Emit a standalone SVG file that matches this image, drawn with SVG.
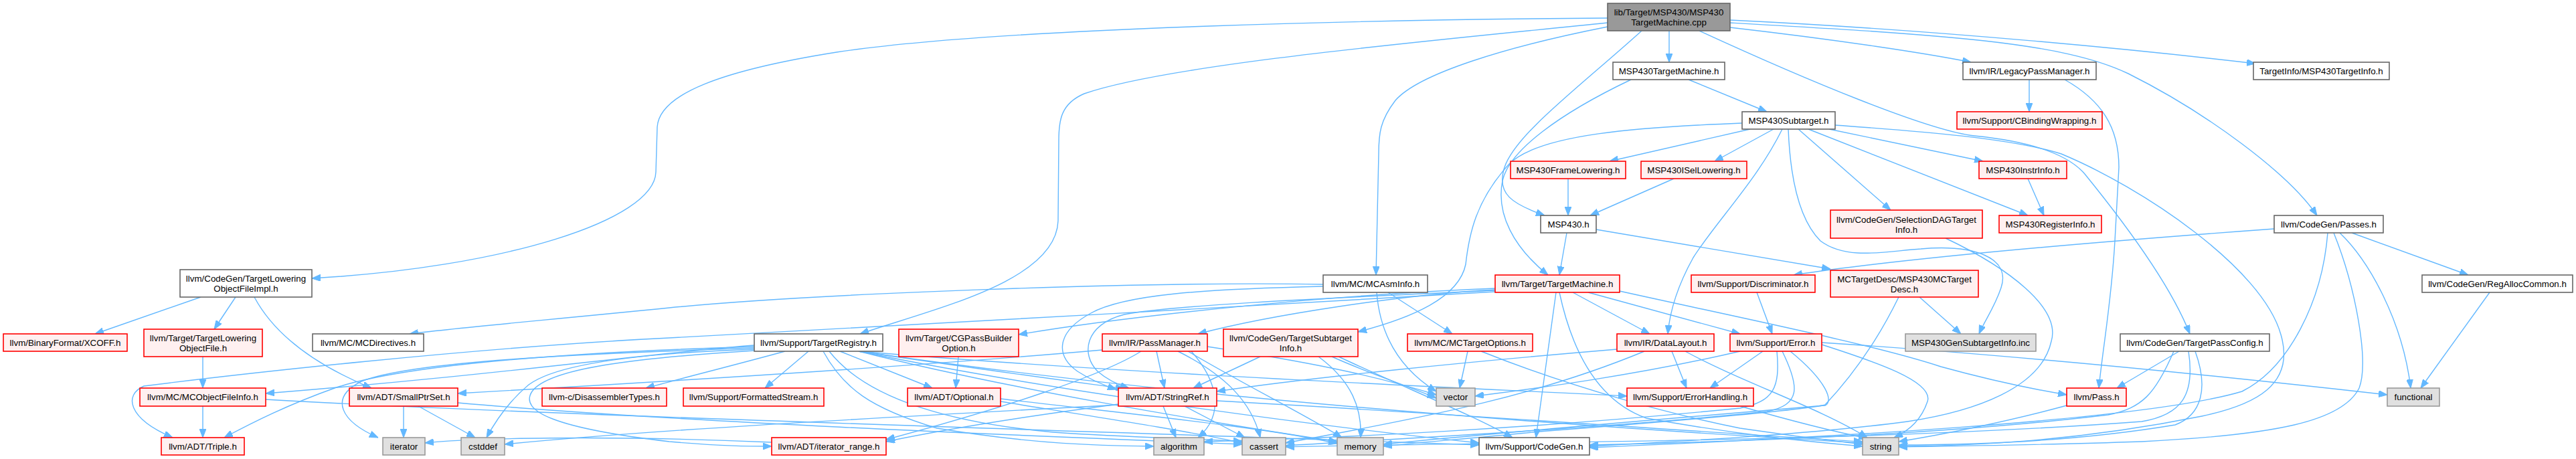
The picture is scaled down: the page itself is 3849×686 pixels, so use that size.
<svg xmlns="http://www.w3.org/2000/svg" width="3849" height="686" viewBox="0 0 3849 686">
<defs>
<marker id="ah" viewBox="0 0 13 10" refX="13" refY="5" markerWidth="13" markerHeight="10" markerUnits="userSpaceOnUse" orient="auto">
<path d="M0,0 L13,5 L0,10 z" fill="#63b8ff" stroke="#63b8ff" stroke-width="1"/>
</marker>
</defs>
<style>
.e{fill:none;stroke:#63b8ff;stroke-width:1.4;marker-end:url(#ah)}
.w{fill:#ffffff;stroke:#666666;stroke-width:1.6}
.r{fill:#fff0f0;stroke:#ff0000;stroke-width:1.6}
.g{fill:#e0e0e0;stroke:#999999;stroke-width:1.6}
.k{fill:#999999;stroke:#666666;stroke-width:1.6}
text{font-family:"Liberation Sans",Arial,Helvetica,sans-serif;font-size:13.33px;fill:#000000;text-anchor:middle}
</style>
<rect x="0" y="0" width="3849" height="686" fill="#ffffff"/>
<g id="edges">
<path class="e" d="M2402,27 C2100,29 1500,40 1250,78 C1080,105 985,140 982,190 L980,257 C978,330 750,400 466,416"/>
<path class="e" d="M2402,34 C2150,60 1750,95 1620,140 C1585,155 1582,180 1582,210 L1581,330 C1578,420 1400,460 1285,499"/>
<path class="e" d="M2402,40 C2250,70 2120,110 2085,150 C2062,180 2060,200 2060,230 L2056,411"/>
<path class="e" d="M2453,46 C2360,130 2265,200 2248,250 C2235,290 2260,305 2308,322"/>
<path class="e" d="M2494,46 L2494,93"/>
<path class="e" d="M2539,46 C2700,120 2880,195 2950,203 C3020,210 3085,225 3115,260 C3180,340 3245,430 3272,499"/>
<path class="e" d="M2585,41 C2750,60 2880,80 2945,93"/>
<path class="e" d="M2585,30 C2900,45 3200,75 3370,95"/>
<path class="e" d="M2585,34 C2900,52 3080,62 3180,110 C3300,170 3420,260 3462,322"/>
<path class="e" d="M2523,119 L2640,167"/>
<path class="e" d="M2437,119 C2330,170 2255,225 2245,270 C2235,320 2262,370 2313,411"/>
<path class="e" d="M2615,193 L2405,241"/>
<path class="e" d="M2650,193 L2562,241"/>
<path class="e" d="M2733,193 L2963,241"/>
<path class="e" d="M2702,193 L3030,322"/>
<path class="e" d="M2687,193 L2825,314"/>
<path class="e" d="M2663,193 C2625,270 2565,330 2530,385 C2505,430 2495,465 2492,499"/>
<path class="e" d="M2672,193 C2675,270 2690,330 2720,360 C2760,390 2820,375 2870,372 C2950,365 3005,385 2990,430 C2980,460 2965,480 2957,499"/>
<path class="e" d="M2603,184 C2450,190 2300,200 2255,245 C2205,300 2195,350 2190,395 C2180,445 2110,475 2029,496"/>
<path class="e" d="M2742,187 C2850,195 3000,205 3080,230 C3200,280 3380,400 3408,500 C3430,575 3370,605 3290,622 C3100,660 2950,666 2837,667"/>
<path class="e" d="M2343,267 L2343,322"/>
<path class="e" d="M2501,267 L2376,322"/>
<path class="e" d="M3030,267 L3054,322"/>
<path class="e" d="M3032,119 L3032,167"/>
<path class="e" d="M3085,119 C3140,150 3166,190 3166,250 L3160,360 C3155,450 3142,520 3136,580"/>
<path class="e" d="M2341,348 L2330,411"/>
<path class="e" d="M2385,343 L2735,402"/>
<path class="e" d="M2907,356 C3000,400 3080,460 3065,510 C3050,580 2950,615 2850,630 C2700,650 2500,660 2375,667"/>
<path class="e" d="M3398,342 C3150,360 2850,385 2680,411"/>
<path class="e" d="M3496,348 C3540,390 3590,480 3602,580"/>
<path class="e" d="M3514,348 L3688,411"/>
<path class="e" d="M3487,348 C3520,430 3540,540 3525,580 C3500,630 3400,650 3200,660 C3050,665 2900,667 2837,668"/>
<path class="e" d="M3478,348 C3470,450 3420,550 3350,585 C3200,630 2700,655 2375,669"/>
<path class="e" d="M3720,437 L3617,580"/>
<path class="e" d="M300,444 L142,499"/>
<path class="e" d="M352,444 L320,492"/>
<path class="e" d="M380,444 C410,500 470,545 555,580"/>
<path class="e" d="M303,533 L303,580"/>
<path class="e" d="M303,607 L303,654"/>
<path class="e" d="M397,597 C800,620 1500,640 2210,665"/>
<path class="e" d="M1977,425 C1700,420 1200,440 1000,460 C800,480 680,490 612,499"/>
<path class="e" d="M2074,437 L2170,499"/>
<path class="e" d="M2057,437 C2062,500 2090,550 2146,585"/>
<path class="e" d="M1977,428 C1800,432 1680,440 1630,468 C1580,495 1575,530 1610,555 C1630,568 1650,576 1668,582"/>
<path class="e" d="M2325,437 L2295,654"/>
<path class="e" d="M2350,437 L2465,499"/>
<path class="e" d="M2373,437 L2600,499"/>
<path class="e" d="M2330,437 C2350,530 2390,600 2460,625 C2600,650 2700,660 2783,667"/>
<path class="e" d="M2420,435 C2600,475 2800,515 2900,548 C2980,570 3040,582 3088,590"/>
<path class="e" d="M2234,436 C1900,455 1300,490 1000,505 C700,520 350,560 215,577 C185,590 190,625 258,654"/>
<path class="e" d="M2234,433 C2100,440 1900,470 1790,499"/>
<path class="e" d="M2234,431 C2000,440 1700,470 1522,500"/>
<path class="e" d="M2234,434 C2000,445 1760,455 1680,470 C1620,485 1615,530 1640,555 C1655,568 1670,575 1687,580"/>
<path class="e" d="M2625,437 L2648,499"/>
<path class="e" d="M2868,444 L2930,499"/>
<path class="e" d="M2837,444 C2800,520 2760,570 2727,605 C2700,612 2500,630 2300,645 C2200,655 2100,663 2067,667"/>
<path class="e" d="M1173,525 C1100,545 1020,565 965,580"/>
<path class="e" d="M1255,525 L1393,580"/>
<path class="e" d="M1208,525 L1143,580"/>
<path class="e" d="M1283,525 C1450,550 1600,570 1680,581"/>
<path class="e" d="M1127,518 C900,525 620,540 500,580 C430,605 380,630 335,654"/>
<path class="e" d="M1127,520 C900,528 620,538 540,570 C490,595 510,630 565,654"/>
<path class="e" d="M1127,522 C950,528 830,545 790,575 C760,600 740,630 727,654"/>
<path class="e" d="M1127,524 C950,535 820,550 795,585 C775,615 830,640 1000,660 C1080,667 1120,667 1153,667"/>
<path class="e" d="M1127,516 C950,530 750,560 397,588"/>
<path class="e" d="M1230,525 C1260,580 1300,610 1400,640 C1550,665 1650,666 1724,667"/>
<path class="e" d="M1239,525 C1290,590 1400,630 1574,646 C1700,655 1800,655 1856,660"/>
<path class="e" d="M1283,525 C1500,580 1800,630 1998,660"/>
<path class="e" d="M1283,525 C1800,600 2400,640 2783,662"/>
<path class="e" d="M1283,525 C1600,590 2000,640 2210,662"/>
<path class="e" d="M1283,525 C1700,560 2200,580 2431,592"/>
<path class="e" d="M1432,533 L1428,580"/>
<path class="e" d="M1647,523 C1400,545 1000,570 684,588"/>
<path class="e" d="M1728,525 L1740,580"/>
<path class="e" d="M1705,525 C1650,560 1500,610 1324,657"/>
<path class="e" d="M1780,525 C1820,570 1830,620 1790,654"/>
<path class="e" d="M1760,525 C1830,560 1870,600 1883,654"/>
<path class="e" d="M1775,525 C1850,570 1950,620 2005,654"/>
<path class="e" d="M1804,518 C1950,540 2050,560 2146,590"/>
<path class="e" d="M1883,533 L1783,580"/>
<path class="e" d="M1970,533 C2020,570 2035,610 2033,654"/>
<path class="e" d="M1990,533 C2050,560 2100,575 2146,595"/>
<path class="e" d="M2000,533 C2100,580 2200,620 2260,654"/>
<path class="e" d="M2193,525 L2181,580"/>
<path class="e" d="M2213,525 C2350,580 2500,620 2600,640 C2700,655 2750,660 2783,664"/>
<path class="e" d="M2416,522 C2200,540 1950,565 1818,585"/>
<path class="e" d="M2498,525 L2520,580"/>
<path class="e" d="M2518,525 C2600,570 2720,610 2790,654"/>
<path class="e" d="M2457,525 C2300,590 2150,620 1921,662"/>
<path class="e" d="M2600,525 C2450,560 2300,580 2204,592"/>
<path class="e" d="M2634,525 L2555,580"/>
<path class="e" d="M2655,525 C2660,580 2650,600 2600,610 C2300,640 2000,655 1799,660"/>
<path class="e" d="M2663,525 C2690,580 2690,605 2640,615 C2400,640 2100,655 1921,666"/>
<path class="e" d="M2675,525 C2730,570 2740,600 2727,606 C2500,625 2200,650 2067,664"/>
<path class="e" d="M2722,515 C2800,540 2890,570 2880,600 C2870,630 2850,645 2830,654"/>
<path class="e" d="M2722,512 C3000,530 3300,560 3567,590"/>
<path class="e" d="M2600,607 C2680,630 2740,645 2790,655"/>
<path class="e" d="M3088,606 C3000,630 2900,650 2837,660"/>
<path class="e" d="M3256,525 L3163,580"/>
<path class="e" d="M3248,525 C3220,590 3200,610 3150,620 C2900,650 2600,660 2375,665"/>
<path class="e" d="M3280,525 C3300,580 3290,620 3250,635 C3100,660 2950,665 2837,665"/>
<path class="e" d="M3270,525 C3280,590 3260,620 3200,630 C2800,660 2300,660 1921,668"/>
<path class="e" d="M1495,600 C1650,625 1780,645 1856,662"/>
<path class="e" d="M1495,596 C1700,620 1900,640 1998,663"/>
<path class="e" d="M1738,607 L1757,654"/>
<path class="e" d="M1770,607 L1860,654"/>
<path class="e" d="M1671,604 C1550,620 1420,640 1324,660"/>
<path class="e" d="M1671,605 C1400,620 1000,640 754,664"/>
<path class="e" d="M1818,599 C2200,620 2600,650 2783,660"/>
<path class="e" d="M603,607 L603,654"/>
<path class="e" d="M625,607 L710,654"/>
<path class="e" d="M684,602 C1000,630 1500,650 1856,664"/>
<path class="e" d="M1153,661 C900,650 700,655 635,662"/>
</g>
<g id="n1"><rect class="k" x="2402" y="5" width="183" height="41"/><text x="2493.5" y="23">lib/Target/MSP430/MSP430</text><text x="2493.5" y="38">TargetMachine.cpp</text></g>
<g id="n2"><rect class="w" x="2410" y="93" width="167" height="26"/><text x="2493.5" y="110.7">MSP430TargetMachine.h</text></g>
<g id="n3"><rect class="w" x="2933" y="93" width="199" height="26"/><text x="3032.5" y="110.7">llvm/IR/LegacyPassManager.h</text></g>
<g id="n4"><rect class="w" x="3367" y="93" width="203" height="26"/><text x="3468.5" y="110.7">TargetInfo/MSP430TargetInfo.h</text></g>
<g id="n5"><rect class="w" x="2603" y="167" width="139" height="26"/><text x="2672.5" y="184.7">MSP430Subtarget.h</text></g>
<g id="n6"><rect class="r" x="2924" y="167" width="217" height="26"/><text x="3032.5" y="184.7">llvm/Support/CBindingWrapping.h</text></g>
<g id="n7"><rect class="r" x="2257" y="241" width="172" height="26"/><text x="2343" y="258.7">MSP430FrameLowering.h</text></g>
<g id="n8"><rect class="r" x="2452" y="241" width="158" height="26"/><text x="2531" y="258.7">MSP430ISelLowering.h</text></g>
<g id="n9"><rect class="r" x="2957" y="241" width="131" height="26"/><text x="3022.5" y="258.7">MSP430InstrInfo.h</text></g>
<g id="n10"><rect class="w" x="2302" y="322" width="83" height="26"/><text x="2343.5" y="339.7">MSP430.h</text></g>
<g id="n11"><rect class="r" x="2735" y="314" width="227" height="42"/><text x="2848.5" y="332.5">llvm/CodeGen/SelectionDAGTarget</text><text x="2848.5" y="347.5">Info.h</text></g>
<g id="n12"><rect class="r" x="2987" y="322" width="153" height="26"/><text x="3063.5" y="339.7">MSP430RegisterInfo.h</text></g>
<g id="n13"><rect class="w" x="3398" y="322" width="163" height="26"/><text x="3479.5" y="339.7">llvm/CodeGen/Passes.h</text></g>
<g id="n14"><rect class="w" x="269" y="403" width="197" height="41"/><text x="367.5" y="421">llvm/CodeGen/TargetLowering</text><text x="367.5" y="436">ObjectFileImpl.h</text></g>
<g id="n15"><rect class="w" x="1977" y="411" width="156" height="26"/><text x="2055" y="428.7">llvm/MC/MCAsmInfo.h</text></g>
<g id="n16"><rect class="r" x="2234" y="411" width="186" height="26"/><text x="2327" y="428.7">llvm/Target/TargetMachine.h</text></g>
<g id="n17"><rect class="r" x="2527" y="411" width="185" height="26"/><text x="2619.5" y="428.7">llvm/Support/Discriminator.h</text></g>
<g id="n18"><rect class="r" x="2735" y="404" width="221" height="40"/><text x="2845.5" y="421.5">MCTargetDesc/MSP430MCTarget</text><text x="2845.5" y="436.5">Desc.h</text></g>
<g id="n19"><rect class="w" x="3619" y="411" width="225" height="26"/><text x="3731.5" y="428.7">llvm/CodeGen/RegAllocCommon.h</text></g>
<g id="n20"><rect class="r" x="5" y="499" width="185" height="26"/><text x="97.5" y="516.7">llvm/BinaryFormat/XCOFF.h</text></g>
<g id="n21"><rect class="r" x="215" y="492" width="177" height="41"/><text x="303.5" y="510">llvm/Target/TargetLowering</text><text x="303.5" y="525">ObjectFile.h</text></g>
<g id="n22"><rect class="w" x="467" y="499" width="166" height="26"/><text x="550" y="516.7">llvm/MC/MCDirectives.h</text></g>
<g id="n23"><rect class="w" x="1127" y="499" width="192" height="26"/><text x="1223" y="516.7">llvm/Support/TargetRegistry.h</text></g>
<g id="n24"><rect class="r" x="1343" y="492" width="179" height="41"/><text x="1432.5" y="510">llvm/Target/CGPassBuilder</text><text x="1432.5" y="525">Option.h</text></g>
<g id="n25"><rect class="r" x="1647" y="499" width="157" height="26"/><text x="1725.5" y="516.7">llvm/IR/PassManager.h</text></g>
<g id="n26"><rect class="r" x="1828" y="492" width="201" height="41"/><text x="1928.5" y="510">llvm/CodeGen/TargetSubtarget</text><text x="1928.5" y="525">Info.h</text></g>
<g id="n27"><rect class="r" x="2103" y="499" width="187" height="26"/><text x="2196.5" y="516.7">llvm/MC/MCTargetOptions.h</text></g>
<g id="n28"><rect class="r" x="2416" y="499" width="145" height="26"/><text x="2488.5" y="516.7">llvm/IR/DataLayout.h</text></g>
<g id="n29"><rect class="r" x="2585" y="499" width="137" height="26"/><text x="2653.5" y="516.7">llvm/Support/Error.h</text></g>
<g id="n30"><rect class="g" x="2847" y="499" width="195" height="26"/><text x="2944.5" y="516.7">MSP430GenSubtargetInfo.inc</text></g>
<g id="n31"><rect class="w" x="3168" y="499" width="223" height="26"/><text x="3279.5" y="516.7">llvm/CodeGen/TargetPassConfig.h</text></g>
<g id="n32"><rect class="r" x="209" y="580" width="188" height="27"/><text x="303" y="598.2">llvm/MC/MCObjectFileInfo.h</text></g>
<g id="n33"><rect class="r" x="522" y="580" width="162" height="27"/><text x="603" y="598.2">llvm/ADT/SmallPtrSet.h</text></g>
<g id="n34"><rect class="r" x="810" y="580" width="186" height="27"/><text x="903" y="598.2">llvm-c/DisassemblerTypes.h</text></g>
<g id="n35"><rect class="r" x="1021" y="580" width="210" height="27"/><text x="1126" y="598.2">llvm/Support/FormattedStream.h</text></g>
<g id="n36"><rect class="r" x="1356" y="580" width="139" height="27"/><text x="1425.5" y="598.2">llvm/ADT/Optional.h</text></g>
<g id="n37"><rect class="r" x="1671" y="580" width="147" height="27"/><text x="1744.5" y="598.2">llvm/ADT/StringRef.h</text></g>
<g id="n38"><rect class="g" x="2146" y="580" width="58" height="27"/><text x="2175" y="598.2">vector</text></g>
<g id="n39"><rect class="r" x="2431" y="580" width="189" height="27"/><text x="2525.5" y="598.2">llvm/Support/ErrorHandling.h</text></g>
<g id="n40"><rect class="r" x="3088" y="580" width="89" height="27"/><text x="3132.5" y="598.2">llvm/Pass.h</text></g>
<g id="n41"><rect class="g" x="3567" y="580" width="78" height="27"/><text x="3606" y="598.2">functional</text></g>
<g id="n42"><rect class="r" x="241" y="654" width="124" height="26"/><text x="303" y="671.7">llvm/ADT/Triple.h</text></g>
<g id="n43"><rect class="g" x="572" y="654" width="63" height="26"/><text x="603.5" y="671.7">iterator</text></g>
<g id="n44"><rect class="g" x="689" y="654" width="65" height="26"/><text x="721.5" y="671.7">cstddef</text></g>
<g id="n45"><rect class="r" x="1153" y="654" width="171" height="26"/><text x="1238.5" y="671.7">llvm/ADT/iterator_range.h</text></g>
<g id="n46"><rect class="g" x="1724" y="654" width="75" height="26"/><text x="1761.5" y="671.7">algorithm</text></g>
<g id="n47"><rect class="g" x="1856" y="654" width="65" height="26"/><text x="1888.5" y="671.7">cassert</text></g>
<g id="n48"><rect class="g" x="1998" y="654" width="69" height="26"/><text x="2032.5" y="671.7">memory</text></g>
<g id="n49"><rect class="w" x="2210" y="654" width="165" height="26"/><text x="2292.5" y="671.7">llvm/Support/CodeGen.h</text></g>
<g id="n50"><rect class="g" x="2783" y="654" width="54" height="26"/><text x="2810" y="671.7">string</text></g>
</svg>
